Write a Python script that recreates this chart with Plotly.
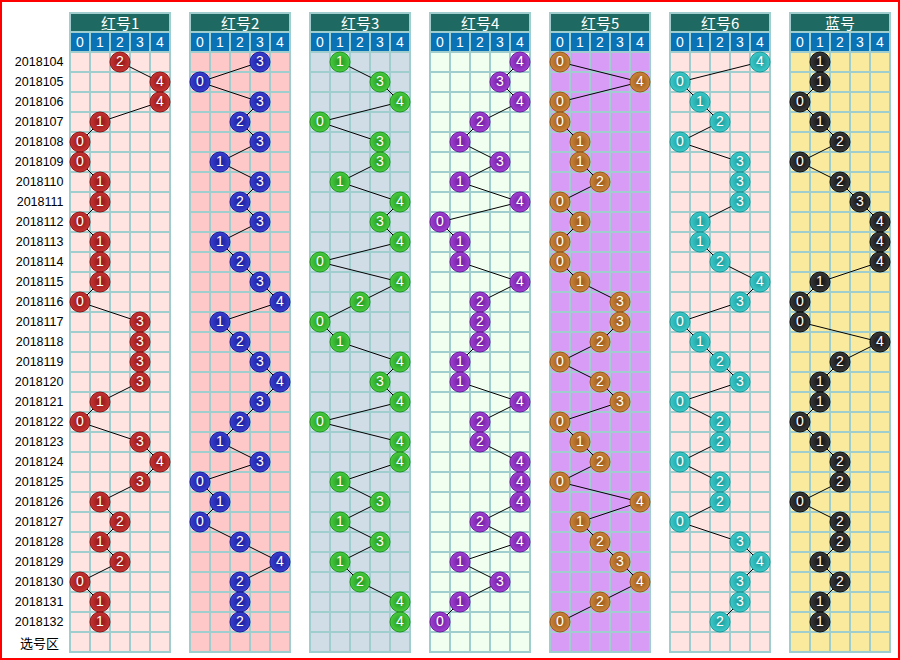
import plotly.graph_objects as go

# ---------------- data ----------------
periods = ["2018104", "2018105", "2018106", "2018107", "2018108", "2018109", "2018110",
           "2018111", "2018112", "2018113", "2018114", "2018115", "2018116", "2018117",
           "2018118", "2018119", "2018120", "2018121", "2018122", "2018123", "2018124",
           "2018125", "2018126", "2018127", "2018128", "2018129", "2018130", "2018131",
           "2018132"]
extra_row_label = "选号区"
titles = ["红号1", "红号2", "红号3", "红号4", "红号5", "红号6", "蓝号"]
digit_labels = ["0", "1", "2", "3", "4"]

red1 = [2, 4, 4, 1, 0, 0, 1, 1, 0, 1, 1, 1, 0, 3, 3, 3, 3, 1, 0, 3, 4, 3, 1, 2, 1, 2, 0, 1, 1]
red2 = [3, 0, 3, 2, 3, 1, 3, 2, 3, 1, 2, 3, 4, 1, 2, 3, 4, 3, 2, 1, 3, 0, 1, 0, 2, 4, 2, 2, 2]
red3 = [1, 3, 4, 0, 3, 3, 1, 4, 3, 4, 0, 4, 2, 0, 1, 4, 3, 4, 0, 4, 4, 1, 3, 1, 3, 1, 2, 4, 4]
red4 = [4, 3, 4, 2, 1, 3, 1, 4, 0, 1, 1, 4, 2, 2, 2, 1, 1, 4, 2, 2, 4, 4, 4, 2, 4, 1, 3, 1, 0]
red5 = [0, 4, 0, 0, 1, 1, 2, 0, 1, 0, 0, 1, 3, 3, 2, 0, 2, 3, 0, 1, 2, 0, 4, 1, 2, 3, 4, 2, 0]
red6 = [4, 0, 1, 2, 0, 3, 3, 3, 1, 1, 2, 4, 3, 0, 1, 2, 3, 0, 2, 2, 0, 2, 2, 0, 3, 4, 3, 3, 2]
blue = [1, 1, 0, 1, 2, 0, 2, 3, 4, 4, 4, 1, 0, 0, 4, 2, 1, 1, 0, 1, 2, 2, 0, 2, 2, 1, 2, 1, 1]

series = [red1, red2, red3, red4, red5, red6, blue]

# ---------------- styles ----------------
panel_bg = ["#FFE4E1", "#FFC8C8", "#D0DCE6", "#F0FFF0", "#D89CF6", "#FFE4E1", "#FAEA9E"]
ball_center = ["#C83434", "#3A3FD0", "#48CC40", "#A040D4", "#CC843A", "#3CCACA", "#3A3A3A"]
ball_edge = ["#8E1414", "#181C98", "#22961E", "#6E1C9C", "#985818", "#1C9A9A", "#0E0E0E"]
grid_col = "#A0CECE"
title_bg = "#1E6A63"
head_bg = "#0A73B6"

W, H = 900, 660
n_rows = len(periods) + 1
y_top, y_bot = -2.55, n_rows - 0.4
px_top = 52 - (-0.5 - y_top) * 20
px_bot = 52 + (y_bot + 0.5) * 20

fig = go.Figure()
shapes = []
annotations = []
rows = list(range(len(periods)))

for i, vals in enumerate(series):
    xa = "x" if i == 0 else f"x{i+1}"
    # line connecting balls
    fig.add_trace(go.Scatter(x=vals, y=rows, mode="lines", xaxis=xa, yaxis="y",
                             line=dict(color="black", width=1), hoverinfo="skip",
                             cliponaxis=False, showlegend=False))
    fig.add_trace(go.Scatter(x=vals, y=rows, mode="markers+text", xaxis=xa, yaxis="y",
                             text=[str(v) for v in vals], textposition="middle center",
                             textfont=dict(color="white", size=14,
                                           family="Liberation Sans Narrow, Liberation Sans, Arial"),
                             marker=dict(size=20, color=ball_center[i],
                                         gradient=dict(type="radial", color=ball_edge[i]),
                                         line=dict(color=ball_edge[i], width=1)),
                             cliponaxis=False, showlegend=False, hoverinfo="skip"))
    # backgrounds
    shapes.append(dict(type="rect", xref=xa, yref="y", x0=-0.5, x1=4.5, y0=-0.5, y1=n_rows - 0.5,
                       fillcolor=panel_bg[i], line=dict(width=0), layer="below"))
    shapes.append(dict(type="rect", xref=xa, yref="y", x0=-0.5, x1=4.5, y0=-2.45, y1=-1.5,
                       fillcolor=title_bg, line=dict(width=0), layer="below"))
    shapes.append(dict(type="rect", xref=xa, yref="y", x0=-0.5, x1=4.5, y0=-1.5, y1=-0.5,
                       fillcolor=head_bg, line=dict(width=0), layer="below"))
    # vertical grid lines
    for k in range(6):
        xv = -0.5 + k
        y0 = -2.45 if k in (0, 5) else -1.5
        shapes.append(dict(type="line", xref=xa, yref="y", x0=xv, x1=xv, y0=y0, y1=n_rows - 0.5,
                           line=dict(color=grid_col, width=2), layer="below"))
    # horizontal grid lines
    for yv in [-2.45, -1.5] + [r - 0.5 for r in range(n_rows + 1)]:
        shapes.append(dict(type="line", xref=xa, yref="y", x0=-0.55, x1=4.55, y0=yv, y1=yv,
                           line=dict(color=grid_col, width=2), layer="below"))
    # header texts
    annotations.append(dict(xref=xa, yref="y", x=2, y=-1.98, text=titles[i], showarrow=False,
                            font=dict(color="white", size=15, family="Noto Sans CJK SC")))
    for d, lab in enumerate(digit_labels):
        annotations.append(dict(xref=xa, yref="y", x=d, y=-1.0, text=lab, showarrow=False,
                                font=dict(color="white", size=14,
                                          family="Liberation Sans Narrow, Liberation Sans, Arial")))

annotations.append(dict(xref="paper", yref="y", x=39 / W, y=n_rows - 1, xanchor="center",
                        text=extra_row_label, showarrow=False,
                        font=dict(color="black", size=13, family="Noto Sans CJK SC")))

# red outer border
shapes.append(dict(type="rect", xref="paper", yref="paper", x0=1 / W, x1=1 - 1 / W,
                   y0=1 / H, y1=1 - 1 / H, line=dict(color="#FF0000", width=2),
                   fillcolor="rgba(0,0,0,0)"))

layout = dict(width=W, height=H, margin=dict(l=0, r=0, t=0, b=0),
              paper_bgcolor="white", plot_bgcolor="rgba(0,0,0,0)",
              shapes=shapes, annotations=annotations, showlegend=False)

for i in range(7):
    left = 70 + 120 * i
    key = "xaxis" if i == 0 else f"xaxis{i+1}"
    layout[key] = dict(domain=[(left - 2) / W, (left + 102) / W], range=[-0.6, 4.6],
                       visible=False, anchor="y", fixedrange=True)

layout["yaxis"] = dict(domain=[1 - px_bot / H, 1 - px_top / H], range=[y_bot, y_top],
                       tickvals=rows, ticktext=periods, showgrid=False, zeroline=False,
                       showline=False, ticks="outside", ticklen=1, tickcolor="rgba(0,0,0,0)",
                       tickfont=dict(size=12.5, color="black", family="Liberation Sans, Arial"),
                       automargin=False, anchor="x", fixedrange=True)

fig.update_layout(**layout)
fig.write_html("out.html")
